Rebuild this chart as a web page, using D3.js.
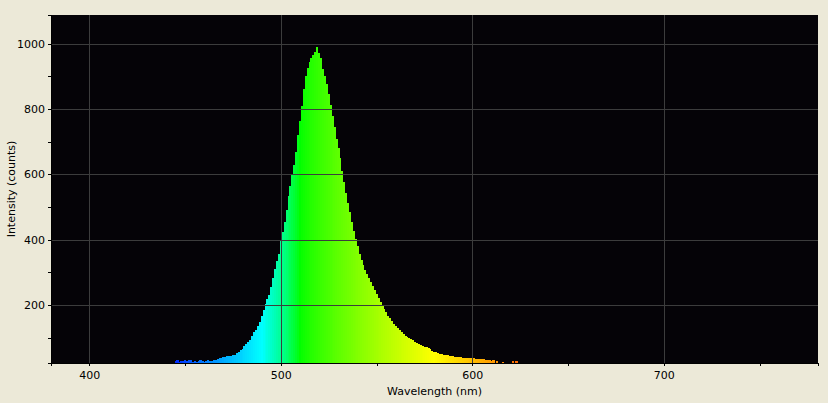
<!DOCTYPE html>
<html>
<head>
<meta charset="utf-8">
<script src="https://cdn.jsdelivr.net/npm/d3@7"></script>
<style>
  html, body { margin: 0; padding: 0; background: #ECE9D8; }
  svg { display: block; }
  text { font-family: "DejaVu Sans", sans-serif; font-size: 11px; fill: #000; }
</style>
</head>
<body>
<svg id="chart" width="828" height="403"></svg>
<script>
// ---- data ----
const startWavelength = 445;   // nm of first sample, 1 nm step
const intensities = [
  28,31,26,30,29,32,30,33,31,27, 29,26,30,31,28,27,29,31,30,29,   // 445-464
  33,32,35,39,38,41,40,43,45,44, 47,49,54,58,62,67,74,80,86,93,   // 465-484
  106,117,125,136,150,166,184,205,220,232, 255,282,310,335,358,395,425,455,492,535, // 485-504
  565,598,630,668,720,765,808,862,900,925, 943,955,966,975,990,972,955,922,900,877, // 505-524
  845,812,780,745,710,680,650,612,578,542, 512,484,455,426,402,380,356,338,324,308, // 525-544
  295,283,270,258,247,233,222,211,198,188, 178,168,160,152,143,136,130,125,119,112, // 545-564
  107,103,99,96,92,88,84,80,77,75, 73,71,68,65,61,58,56,54,52,51,   // 565-584
  49,48,46,45,44,43,42,41,40,40, 39,38,38,37,37,36,37,35,36,36,     // 585-604
  34,35,32,31,33,30,31,22,28,22, 20,27,20,21,20,22,29,20,29,20,20   // 605-625
];
const xTicks = [400, 500, 600, 700];
const xMinorTicks = [450, 550, 650, 750];
const yTicks = [200, 400, 600, 800, 1000];
const yMinorTicks = [100, 300, 500, 700, 900];
const xDomain = [380, 780.5];
const yDomain = [23, 1088];
const xTitle = "Wavelength (nm)";
const yTitle = "Intensity (counts)";

// ---- layout ----
const svg = d3.select("#chart");
const plot = { left: 51, top: 15, right: 818, bottom: 363 };

const x = d3.scaleLinear().domain(xDomain).range([plot.left, plot.right]);
const y = d3.scaleLinear().domain(yDomain).range([plot.bottom, plot.top]);

// wavelength -> colour (Bruton-style spectral mapping, gamma 0.8)
function spectralColor(wl) {
  let r = 0, g = 0, b = 0;
  if (wl < 440) { r = (440 - wl) / 60; b = 1; }
  else if (wl < 490) { g = (wl - 440) / 50; b = 1; }
  else if (wl < 510) { g = 1; b = (510 - wl) / 20; }
  else if (wl < 580) { r = (wl - 510) / 70; g = 1; }
  else if (wl < 645) { r = 1; g = (645 - wl) / 65; }
  else { r = 1; }
  const gm = v => Math.round(255 * Math.pow(Math.max(0, Math.min(1, v)), 0.8));
  return d3.rgb(gm(r), gm(g), gm(b)).toString();
}

const data = intensities.map((v, i) => ({ wl: startWavelength + i, v }));

svg.append("rect")
  .attr("x", plot.left).attr("y", plot.top)
  .attr("width", plot.right - plot.left).attr("height", plot.bottom - plot.top)
  .attr("fill", "#050307");

const clip = svg.append("clipPath").attr("id", "clip")
  .append("rect")
  .attr("x", plot.left).attr("y", plot.top)
  .attr("width", plot.right - plot.left).attr("height", plot.bottom - plot.top);

// spectrum bars
svg.append("g").attr("clip-path", "url(#clip)")
  .selectAll("rect").data(data.filter(d => d.v > yDomain[0])).join("rect")
  .attr("x", d => x(d.wl - 0.5))
  .attr("width", d => x(d.wl + 0.5) - x(d.wl - 0.5) + 0.3)
  .attr("y", d => y(d.v))
  .attr("height", d => plot.bottom - y(d.v))
  .attr("fill", d => spectralColor(d.wl))
  .attr("shape-rendering", "crispEdges");

// grid lines (drawn over the spectrum)
const grid = svg.append("g").attr("stroke", "#3c3c3c").attr("stroke-width", 1)
  .attr("shape-rendering", "crispEdges");
grid.selectAll("line.v").data(xTicks).join("line").attr("class", "v")
  .attr("x1", d => Math.round(x(d)) + 0.5).attr("x2", d => Math.round(x(d)) + 0.5)
  .attr("y1", plot.top).attr("y2", plot.bottom);
grid.selectAll("line.h").data(yTicks).join("line").attr("class", "h")
  .attr("y1", d => Math.round(y(d)) + 0.5).attr("y2", d => Math.round(y(d)) + 0.5)
  .attr("x1", plot.left).attr("x2", plot.right);

// axes
const xAxis = d3.axisBottom(x).tickValues(xTicks).tickSize(3).tickPadding(5).tickFormat(d3.format("d"));
const xAxisMinor = d3.axisBottom(x).tickValues(xMinorTicks).tickSize(3).tickFormat("");
const yAxis = d3.axisLeft(y).tickValues(yTicks).tickSize(3).tickPadding(3).tickFormat(d3.format("d"));
const yAxisMinor = d3.axisLeft(y).tickValues(yMinorTicks).tickSize(3).tickFormat("");

function styleAxis(g) {
  g.select(".domain").attr("stroke", "#000");
  g.selectAll(".tick line").attr("stroke", "#000");
  g.selectAll("text").attr("font-family", "DejaVu Sans, sans-serif").attr("font-size", 11).attr("fill", "#000");
  g.attr("shape-rendering", "crispEdges");
}
svg.append("g").attr("transform", `translate(0,${plot.bottom})`).call(xAxis).call(styleAxis);
svg.append("g").attr("transform", `translate(0,${plot.bottom})`).call(xAxisMinor).call(styleAxis);
svg.append("g").attr("transform", `translate(${plot.left},0)`).call(yAxis).call(styleAxis);
svg.append("g").attr("transform", `translate(${plot.left},0)`).call(yAxisMinor).call(styleAxis);

// titles
svg.append("text")
  .attr("x", (plot.left + plot.right) / 2).attr("y", 395)
  .attr("text-anchor", "middle").text(xTitle);
svg.append("text")
  .attr("transform", `translate(15,${(plot.top + plot.bottom) / 2}) rotate(-90)`)
  .attr("text-anchor", "middle").text(yTitle);
</script>
</body>
</html>
